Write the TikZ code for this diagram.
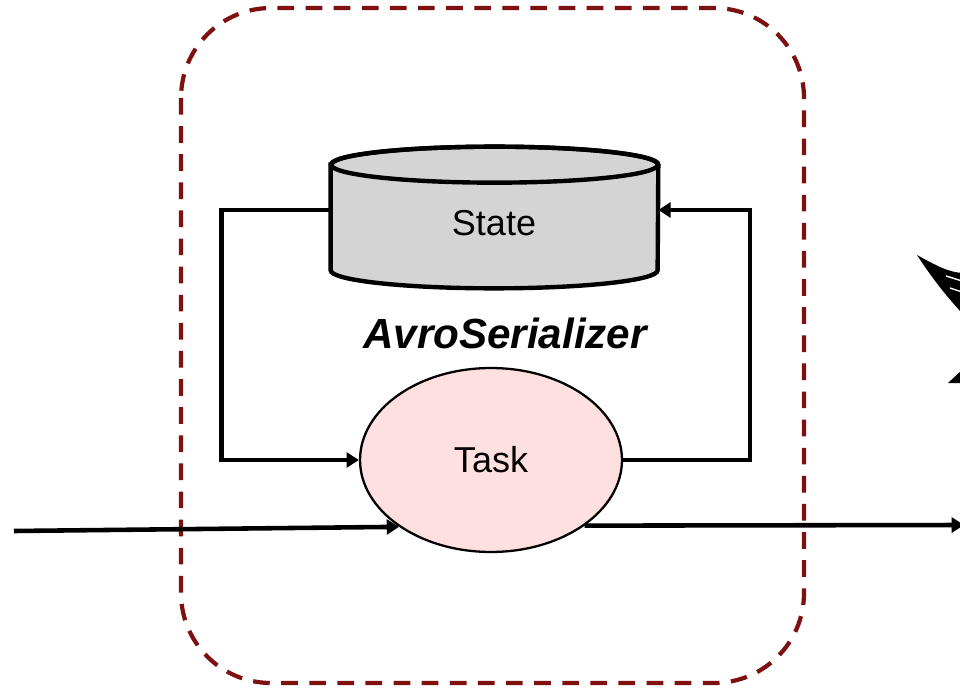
\documentclass[tikz,border=0pt]{standalone}
\usepackage{fontspec}
\setmainfont{Liberation Sans}
\usetikzlibrary{positioning,shapes.geometric,arrows.meta}
\definecolor{boxred}{RGB}{126,16,16}
\definecolor{stategray}{RGB}{212,212,212}
\definecolor{taskpink}{RGB}{255,224,224}

\begin{document}
\begin{tikzpicture}[x=0.02cm,y=-0.02cm,
    every node/.style={font=\fontsize{20.5}{24}\selectfont},
    flow/.style={line width=2.6pt,-{Triangle[length=7pt,width=8.5pt]}},
    store/.style={draw,line width=2.5pt,fill=stategray},
    lid/.style={x radius=3.27cm,y radius=0.36cm},
    proc/.style={ellipse,draw,line width=1.3pt,fill=taskpink,
      minimum width=5.24cm,minimum height=3.68cm}]
    \useasboundingbox (0,0) rectangle (960,689);
    % processor boundary
    \draw[boxred,line width=2.4pt,dash pattern=on 9.5pt off 6.5pt,rounded corners=1.8cm]
      (181,8) rectangle (804,683);
    % state store as a cylinder
    \node[minimum width=6.54cm,minimum height=2.1cm,inner sep=0] (state) at (494.5,217.5) {};
    \path[store] (state.north west) -- (state.south west) arc[start angle=180,end angle=360,lid]
      -- (state.north east) arc[start angle=0,end angle=180,lid] -- cycle;
    \draw[line width=2.5pt] (state.north) ellipse[lid];
    \node (statelabel) at (494,223) {State};
    \node[proc] (task) at (491,460) {Task};
    \node[font=\fontsize{24}{28}\selectfont\bfseries\itshape] (serde) at (505,333) {AvroSerializer};
    \coordinate (in) at (14,531);
    \coordinate (out) at (964,525);
    \draw[flow] ([yshift=0.15cm]state.west) -- ++(-109,0) |- (task.west);
    \draw[flow] (task.east) -- ++(127,0) |- ([yshift=0.15cm]state.east);
    \draw[flow] (in) -- (task.-144);
    \draw[flow] (task.-35) -- (out);
    % cut-off shape at the right edge
    \fill (917,255) .. controls (940,268) and (950,272) .. (962,273) -- (962,313)
      .. controls (945,295) and (930,275) .. cycle;
    \draw[white,line width=0.8pt] (946,276) -- (962,281) (950,288) -- (962,292);
    \fill (948,383) -- (962,370) -- (962,383) -- cycle;
\end{tikzpicture}
\end{document}
